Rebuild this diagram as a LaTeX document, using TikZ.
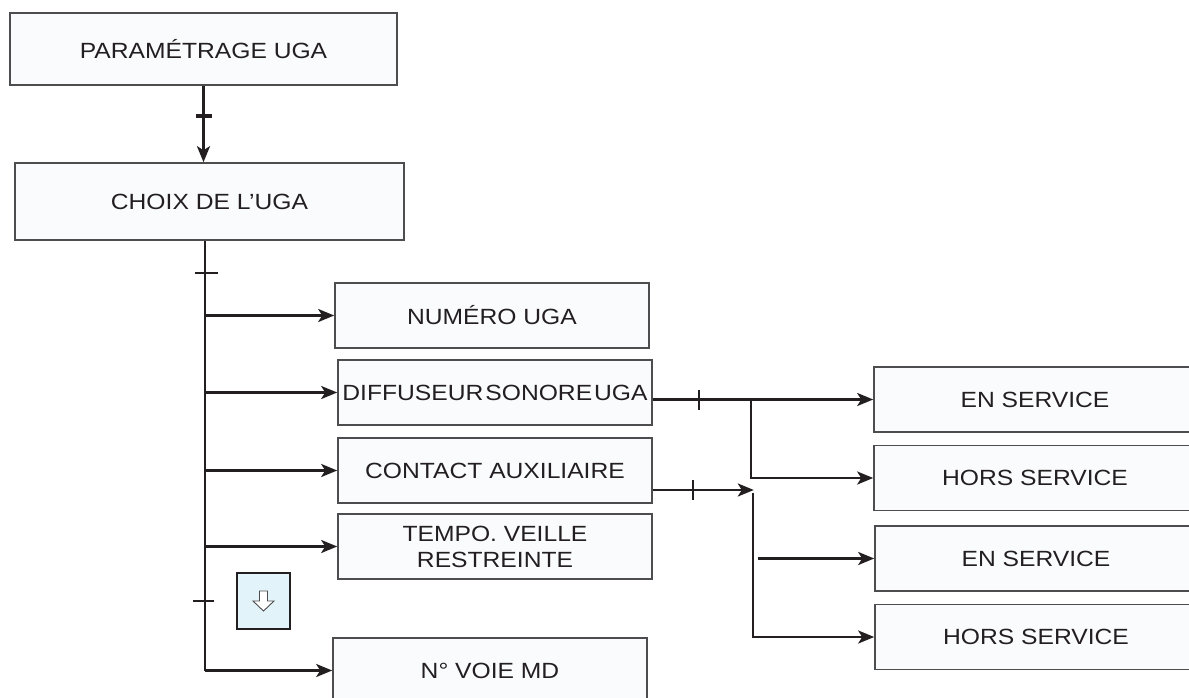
\documentclass[tikz,border=0pt]{standalone}
\usepackage{fontspec}
\newfontfamily\menufont[FakeStretch=1.12]{Liberation Sans}
\usepackage{tikz}
\usetikzlibrary{arrows.meta, calc, positioning}
\definecolor{boxfill}{HTML}{FAFBFD}
\definecolor{boxline}{HTML}{4D4D4F}
\definecolor{ink}{HTML}{231F20}
\definecolor{iconfill}{HTML}{E3F3FA}

\begin{document}
\begin{tikzpicture}[x=1pt, y=-1pt,
  menu/.style={draw=boxline, line width=1.6pt, fill=boxfill, text=ink,
    font=\menufont\fontsize{22}{26}\selectfont,
    minimum width=314pt, minimum height=65pt, inner sep=0pt, align=center},
  link/.style={draw=ink, line width=2.6pt, -{Stealth[length=16pt, width=13pt, inset=4pt]}},
  wire/.style={draw=ink, line width=2.6pt},
  tick/.style={draw=ink, line width=2pt}]
\useasboundingbox (0,0) rectangle (1189,698);
\clip (0,0) rectangle (1189,698);

% Top of the menu
\node[menu, minimum width=387pt, minimum height=72pt] (param) at (203.5,49) {PARAMÉTRAGE UGA};
\node[menu, minimum width=389pt, minimum height=77pt] (choix) at (209.5,201.5) {CHOIX DE L’UGA};
\draw[link] (param.south) -- (param.south |- choix.north);
\draw[draw=ink, line width=4.5pt] ($(param.south)+(-8,30)$) -- ++(16,0);

% Sub-menu entries
\node[menu] (numero) at (492,315.5) {NUMÉRO UGA};
\node[menu] (diffuseur) at (495,392.5) {DIFFUSEUR\hspace{2pt}SONORE\hspace{2pt}UGA};
\node[menu] (contact) at (495,470.5) {CONTACT AUXILIAIRE};
\node[menu] (tempo) at (495,546.5) {TEMPO. VEILLE\\RESTREINTE};
\node[menu] (voie) at (490,670.5) {N° VOIE MD};

% Scroll icon
\node[draw=ink, line width=2.2pt, fill=iconfill, minimum width=53pt, minimum height=56pt] (scroll) at (263.5,601) {};
\draw[boxline, line width=0.9pt, fill=white] ($(scroll)+(-4,-10)$) -- ++(8,0) -- ++(0,10) -- ++(6.5,0)
  -- ($(scroll)+(0,10)$) -- ($(scroll)+(-10.5,0)$) -- ++(6.5,0) -- cycle;

% Bus and branches
\coordinate (bus) at ([xshift=-4.5pt]choix.south);
\draw[wire] (bus) -- (bus |- voie.west);
\draw[tick] ($(bus)+(-10,32)$) -- ++(23,0);
\draw[tick] ($(bus |- scroll)+(-12,0)$) -- ++(21,0);
\foreach \n in {numero, diffuseur, contact, tempo, voie}
  \draw[link] (bus |- \n.west) -- (\n.west);

% Choices on the right
\node[menu, minimum width=322pt] (en1) at (1035,399.5) {EN SERVICE};
\node[menu, minimum width=322pt] (hs1) at (1035,478) {HORS SERVICE};
\node[menu, minimum width=322pt] (en2) at (1036,558.5) {EN SERVICE};
\node[menu, minimum width=322pt] (hs2) at (1036,637) {HORS SERVICE};

% Diffuseur sonore
\draw[link] (diffuseur.east |- en1.west) -- (en1.west);
\draw[tick] ($(diffuseur.east |- en1.west)+(46,-10)$) -- ++(0,20);
\coordinate (j1) at ($(diffuseur.east |- en1.west)+(98,0)$);
\draw[link] (j1) |- (hs1.west);

% Contact auxiliaire
\coordinate (c1) at ($(contact.east)+(0,19.5)$);
\coordinate (j2) at ($(c1)+(101,0)$);
\draw[link] (c1) -- (j2);
\draw[tick] ($(c1)+(40,-10)$) -- ++(0,20);
\draw[link] ($(j2)+(-1,3)$) |- (hs2.west);
\draw[link] ($(j2 |- en2.west)+(4,0)$) -- (en2.west);

\end{tikzpicture}
\end{document}
